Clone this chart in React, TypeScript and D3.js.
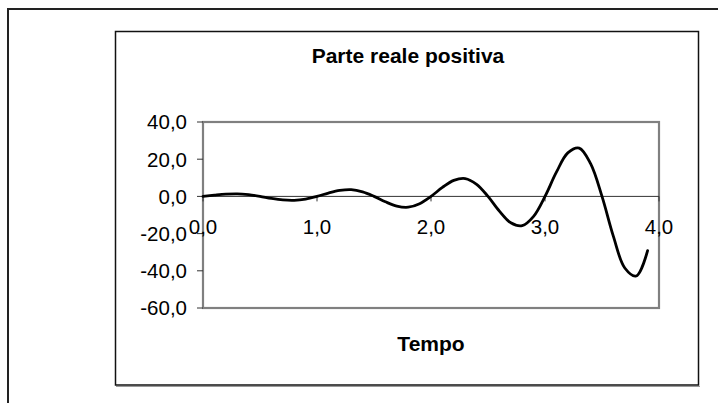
import React from "react";
import * as d3 from "d3";

const timeValues = [0.0, 0.1, 0.2, 0.3, 0.4, 0.5, 0.6, 0.7, 0.8, 0.9, 1.0, 1.1, 1.2, 1.3, 1.4, 1.5, 1.6, 1.7, 1.8, 1.9, 2.0, 2.1, 2.2, 2.3, 2.4, 2.5, 2.6, 2.7, 2.8, 2.9, 3.0, 3.1, 3.2, 3.3, 3.4, 3.5, 3.6, 3.7, 3.8, 3.9];
const realValues = [0.0, 0.65, 1.2, 1.4, 0.9, 0.0, -1.1, -1.9, -2.1, -1.45, 0.0, 1.8, 3.2, 3.6, 2.4, 0.0, -2.9, -5.2, -5.8, -3.9, 0.0, 4.8, 8.6, 9.6, 6.5, 0.0, -7.9, -14.2, -15.7, -10.7, 0.0, 13.0, 23.4, 26.0, 17.6, 0.0, -21.5, -38.5, -42.8, -29.2];
const yTicks = [40, 20, 0, -20, -40, -60];
const xTicks = [0, 1, 2, 3, 4];
const chartTitle = "Parte reale positiva";
const xTitle = "Tempo";

const fmt = (v: number) => v.toFixed(1).replace(".", ",");

export default function App() {
  const W = 718, H = 403;
  const plot = { left: 203, top: 122, right: 659, bottom: 308 };
  const x = d3.scaleLinear().domain([0, 4]).range([plot.left, plot.right]);
  const y = d3.scaleLinear().domain([-60, 40]).range([plot.bottom, plot.top]);
  const data = timeValues.map((t, i) => [t, realValues[i]] as [number, number]);
  const line = d3.line<[number, number]>().x(d => x(d[0])).y(d => y(d[1])).curve(d3.curveCatmullRom.alpha(0.5));
  const font = "'Liberation Sans', Arial, sans-serif";
  const y0 = y(0);
  return (
    <svg width={W} height={H} style={{ position: "absolute", left: 0, top: 0, background: "#fff" }} fontFamily={font}>
      <rect x={0} y={0} width={W} height={H} fill="#fff" />
      {/* outer frame */}
      <rect x={8} y={9} width={800} height={600} fill="none" stroke="#222" strokeWidth={2} />
      {/* chart box shadow */}
      <line x1={116} y1={386.5} x2={700} y2={386.5} stroke="#999" strokeWidth={1} />
      <rect x={115.5} y={31.5} width={583} height={353.5} fill="#fff" stroke="#111" strokeWidth={1.5} />
      {/* plot area */}
      <rect x={plot.left} y={plot.top} width={plot.right - plot.left} height={plot.bottom - plot.top} fill="#fff" stroke="#808080" strokeWidth={2.2} />
      {/* y ticks */}
      {yTicks.map(v => (
        <g key={v}>
          <line x1={plot.left - 6} x2={plot.left} y1={y(v)} y2={y(v)} stroke="#333" strokeWidth={1} />
          <text x={187} y={y(v)} dy="0.36em" textAnchor="end" fontSize={20.5} fill="#000">{fmt(v)}</text>
        </g>
      ))}
      {/* zero line */}
      <line x1={plot.left} x2={plot.right} y1={y0} y2={y0} stroke="#333" strokeWidth={1} />
      {xTicks.map(v => (
        <g key={v}>
          <line x1={x(v)} x2={x(v)} y1={y0} y2={y0 + 5} stroke="#333" strokeWidth={1} />
          <text x={x(v)} y={234} textAnchor="middle" fontSize={20.5} fill="#000">{fmt(v)}</text>
        </g>
      ))}
      {/* data line */}
      <path d={line(data) || ""} fill="none" stroke="#000" strokeWidth={2.8} strokeLinejoin="round" strokeLinecap="round" />
      {/* titles */}
      <text x={408} y={63} textAnchor="middle" fontSize={21} fontWeight="bold" fill="#000">{chartTitle}</text>
      <text x={(plot.left + plot.right) / 2} y={351} textAnchor="middle" fontSize={21} fontWeight="bold" fill="#000">{xTitle}</text>
    </svg>
  );
}
